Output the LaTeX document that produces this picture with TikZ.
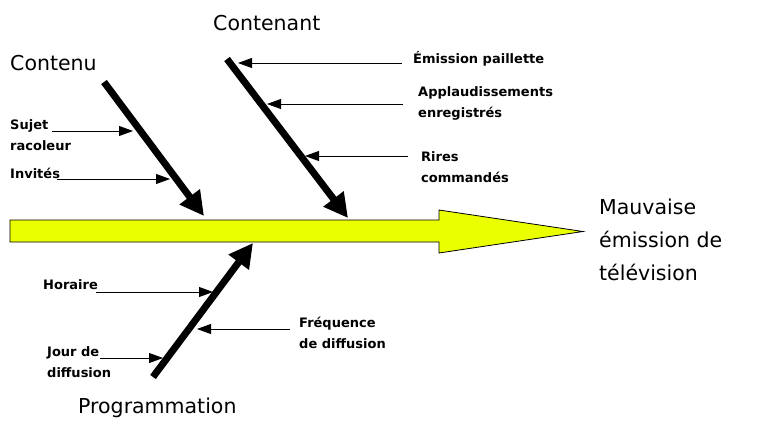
\documentclass[tikz,border=0pt]{standalone}
\usepackage{fontspec}
\setmainfont{DejaVu Sans}
\usetikzlibrary{arrows.meta}
\definecolor{spine}{RGB}{234,255,0}
\begin{document}
\begin{tikzpicture}[x=1pt,y=-1pt,
  big/.style={font=\fontsize{20.5}{33}\selectfont, inner sep=0pt, anchor=base west, align=left},
  lab/.style={font=\bfseries\fontsize{13}{21}\selectfont, inner sep=0pt, anchor=base west, align=left},
  bone/.style={line width=7pt, -{Triangle[length=24pt,width=24pt]}},
  rib/.style={line width=0.8pt, -{Triangle[length=14pt,width=10pt]}}]
\useasboundingbox (0,0) rectangle (757,442);
% spine
\draw[line width=0.8pt, fill=spine] (10,220) -- (439,220) -- (439,210) -- (583,231.5) -- (439,253) -- (439,242) -- (10,242) -- cycle;
% anchor points on the spine
\coordinate (c1) at (204,216);
\coordinate (c2) at (348,218);
\coordinate (c3) at (253,243);
% bone starts
\coordinate (s1) at (104,82);
\coordinate (s2) at (227,59);
\coordinate (s3) at (153,377);
\draw[bone] (s1) -- (c1);
\draw[bone] (s2) -- (c2);
\draw[bone] (s3) -- (c3);
% big labels (anchor = baseline of last line)
\node[big] (contenu) at (10,70) {Contenu};
\node[big] (contenant) at (213,30) {Contenant};
\node[big] (prog) at (78,413) {Programmation};
\node[big] (effet) at (599,280) {Mauvaise\\émission de\\télévision};
% small labels (anchor = baseline of last line)
\node[lab] (sujet) at (10,150) {Sujet\\racoleur};
\node[lab] (invites) at (10,178) {Invités};
\node[lab] (paillette) at (413,63) {Émission paillette};
\node[lab] (applaud) at (418,117) {Applaudissements\\enregistrés};
\node[lab] (rires) at (421,182) {Rires\\commandés};
\node[lab] (horaire) at (43,289) {Horaire};
\node[lab] (freq) at (299,348) {Fréquence\\de diffusion};
\node[lab] (jour) at (47,377) {Jour de\\diffusion};
% rib arrow endpoints
\coordinate (r1a) at (52,131);  \coordinate (r1b) at (133,131);
\coordinate (r2a) at (57,179);  \coordinate (r2b) at (170,179);
\coordinate (r3a) at (402,63);  \coordinate (r3b) at (238,63);
\coordinate (r4a) at (403,104); \coordinate (r4b) at (267,104);
\coordinate (r5a) at (408,156); \coordinate (r5b) at (305,156);
\coordinate (r6a) at (96,292);  \coordinate (r6b) at (213,292);
\coordinate (r7a) at (290,329); \coordinate (r7b) at (197,329);
\coordinate (r8a) at (100,358); \coordinate (r8b) at (163,358);
\draw[rib] (r1a) -- (r1b);
\draw[rib] (r2a) -- (r2b);
\draw[rib] (r3a) -- (r3b);
\draw[rib] (r4a) -- (r4b);
\draw[rib] (r5a) -- (r5b);
\draw[rib] (r6a) -- (r6b);
\draw[rib] (r7a) -- (r7b);
\draw[rib] (r8a) -- (r8b);
\end{tikzpicture}
\end{document}
